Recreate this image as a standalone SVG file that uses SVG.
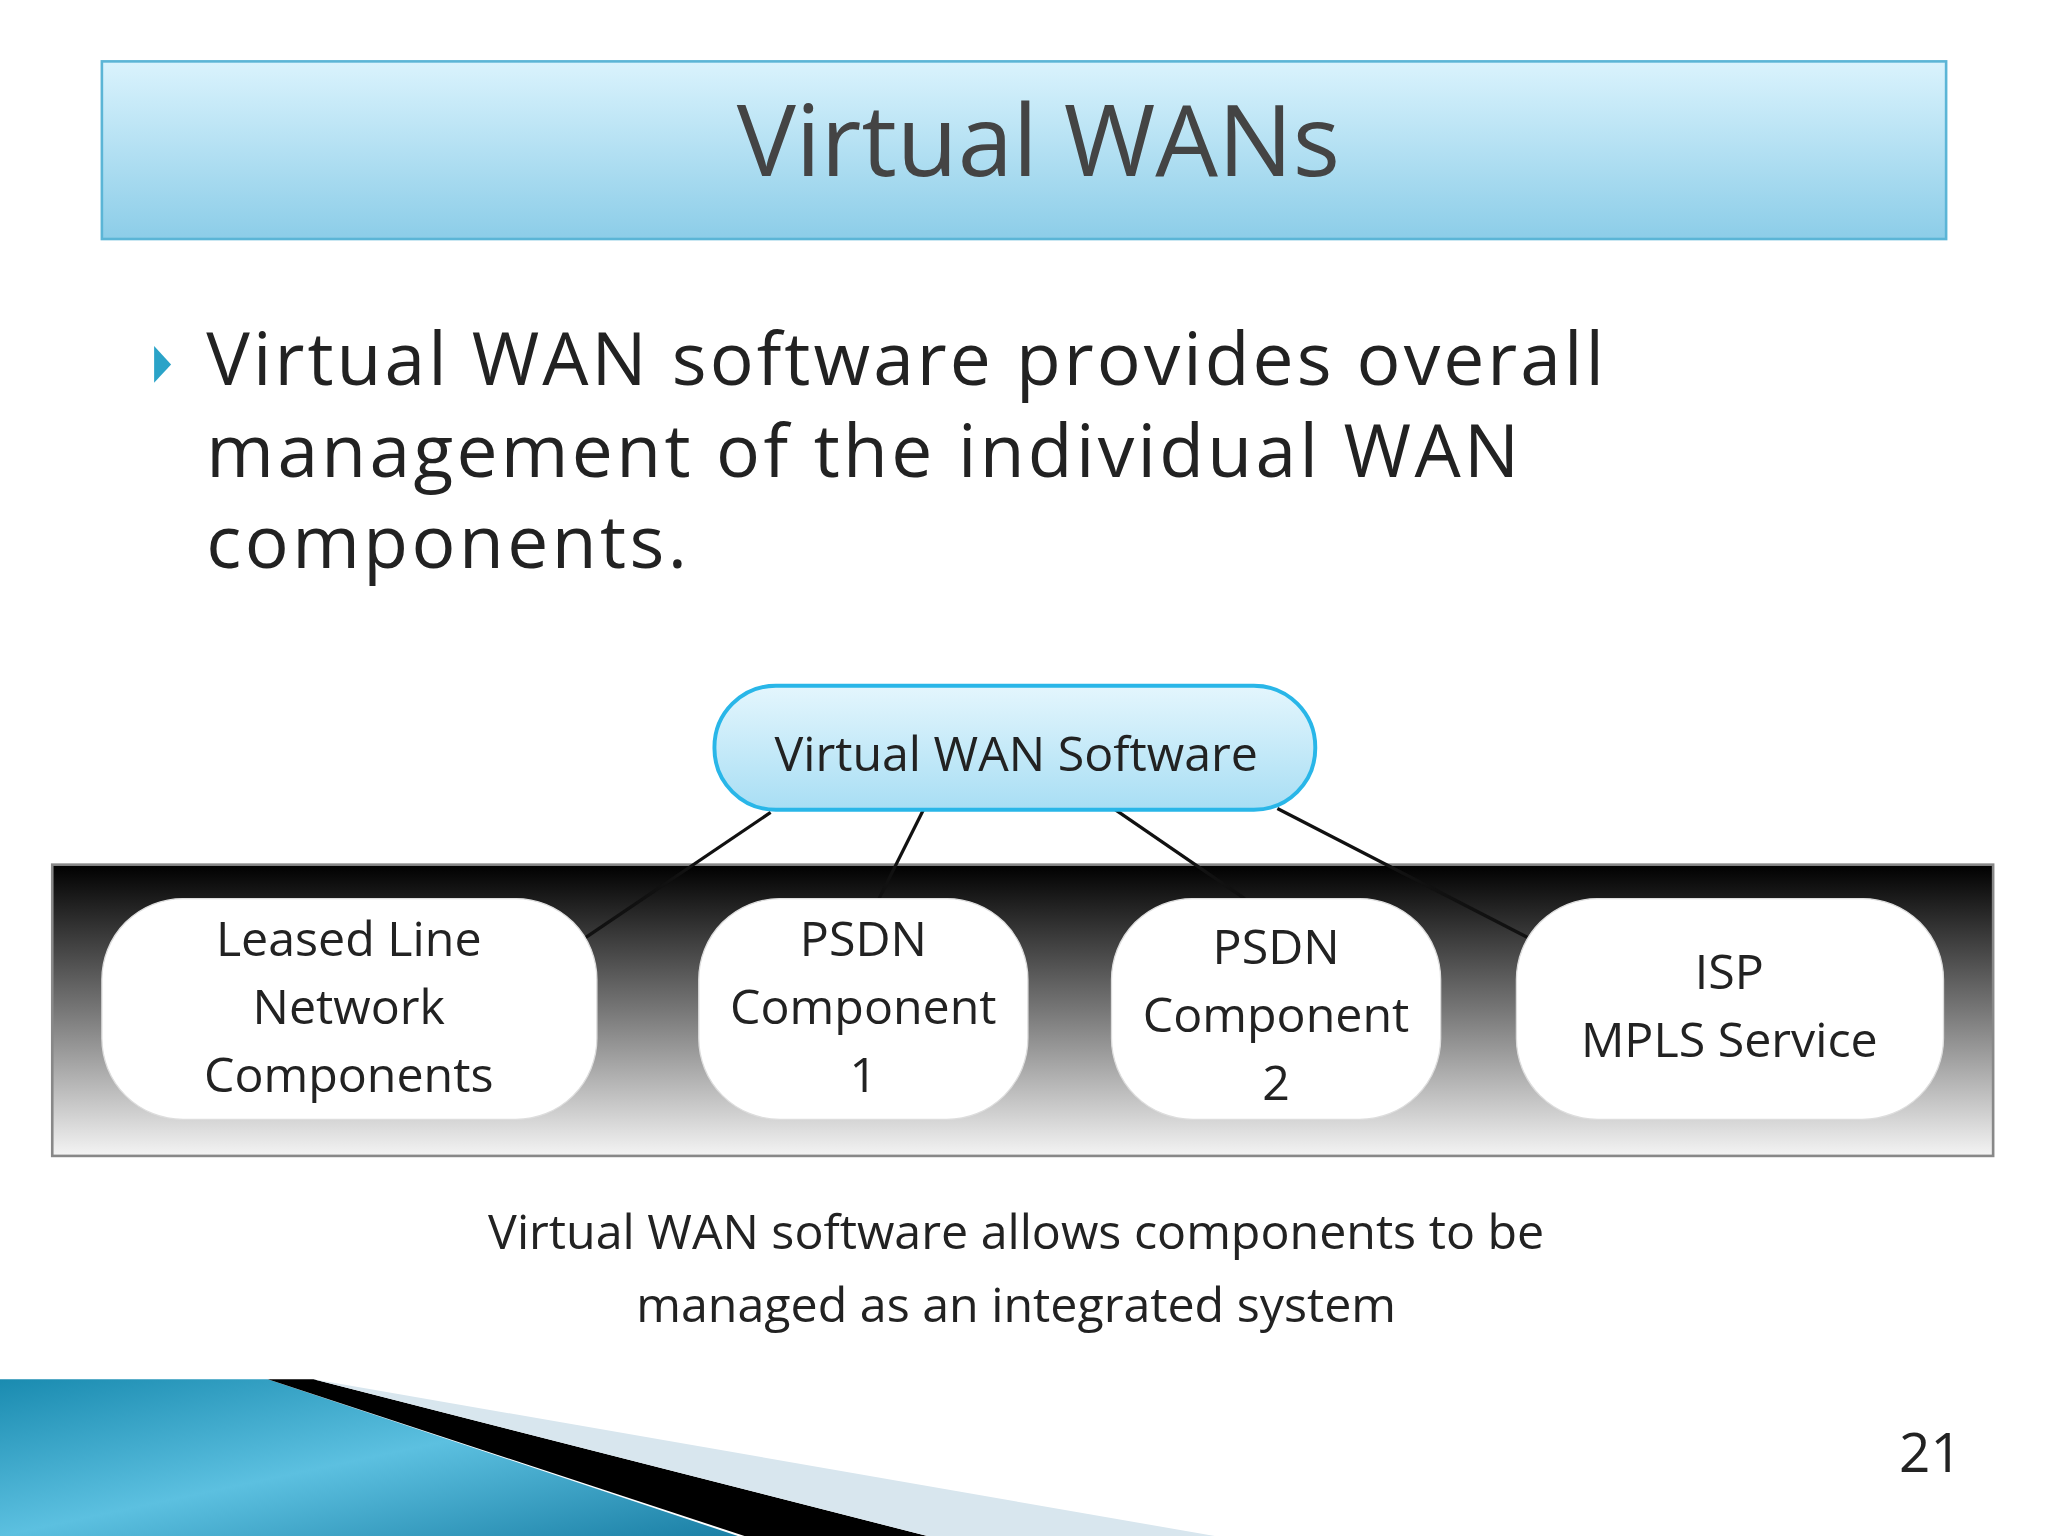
<svg xmlns="http://www.w3.org/2000/svg" width="2048" height="1536" viewBox="0 0 2048 1536">
<defs>
<linearGradient id="tb" x1="0" y1="0" x2="0" y2="1"><stop offset="0" stop-color="#daf3fd"/><stop offset="1" stop-color="#8ccde8"/></linearGradient>
<linearGradient id="pill" x1="0" y1="0" x2="0" y2="1"><stop offset="0" stop-color="#e4f6fd"/><stop offset="1" stop-color="#a8def4"/></linearGradient>
<linearGradient id="band" x1="0" y1="0" x2="0" y2="1"><stop offset="0" stop-color="#000"/><stop offset="0.5" stop-color="#777"/><stop offset="1" stop-color="#f4f4f4"/></linearGradient>
<linearGradient id="blue" x1="0" y1="0" x2="1" y2="1"><stop offset="0" stop-color="#1a8bb0"/><stop offset="0.5" stop-color="#5cc0e0"/><stop offset="1" stop-color="#1a7fa5"/></linearGradient>
<style>
.t{font-family:"Open Sans","DejaVu Sans",sans-serif;fill:#222}
.n{font-family:"Open Sans","Liberation Sans",sans-serif;font-size:37px;fill:#222;text-anchor:middle}
.node{fill:#fff;stroke:#ddd;stroke-width:1}
.c{stroke:#111;stroke-width:2.5;fill:none}
</style>
</defs>
<rect width="2048" height="1536" fill="#fff"/>
<g transform="scale(1.30612)">
<rect x="78" y="47" width="1412" height="136" fill="url(#tb)" stroke="#5bb5d6" stroke-width="2"/>
<text x="795" y="135" class="t" font-size="76" text-anchor="middle" fill="#444" style="fill:#444">Virtual WANs</text>
<polygon points="118,265 131,279 118,293" fill="#2aa3c8"/>
<text class="t" font-size="56" x="158" y="295" textLength="1070">Virtual WAN software provides overall</text>
<text class="t" font-size="56" x="158" y="365" textLength="1005">management of the individual WAN</text>
<text class="t" font-size="56" x="158" y="435" textLength="368">components.</text>
<g id="band"><rect x="40" y="662" width="1486" height="223" fill="url(#band)" stroke="#888" stroke-width="2"/></g>
<g id="connectors">
<line class="c" x1="590" y1="622" x2="448" y2="718"/>
<line class="c" x1="707" y1="620" x2="673" y2="688"/>
<line class="c" x1="851" y1="618" x2="953" y2="688"/>
<line class="c" x1="978" y1="619" x2="1170" y2="718"/>
</g>
<g id="software"><rect x="547" y="525" width="460" height="95" rx="47" fill="url(#pill)" stroke="#29b6e8" stroke-width="3"/>
<text class="n" x="778" y="590" font-size="38">Virtual WAN Software</text></g>
<g id="leased"><rect class="node" x="78" y="688" width="379" height="169" rx="62"/>
<text class="n" x="267" y="732">Leased Line</text><text class="n" x="267" y="784">Network</text><text class="n" x="267" y="836">Components</text></g>
<g id="psdn1"><rect class="node" x="535" y="688" width="252" height="169" rx="62"/>
<text class="n" x="661" y="732">PSDN</text><text class="n" x="661" y="784">Component</text><text class="n" x="661" y="836">1</text></g>
<g id="psdn2"><rect class="node" x="851" y="688" width="252" height="169" rx="62"/>
<text class="n" x="977" y="738">PSDN</text><text class="n" x="977" y="790">Component</text><text class="n" x="977" y="842">2</text></g>
<g id="isp"><rect class="node" x="1161" y="688" width="327" height="169" rx="62"/>
<text class="n" x="1324" y="757">ISP</text><text class="n" x="1324" y="809">MPLS Service</text></g>
<text class="n" x="778" y="956">Virtual WAN software allows components to be</text>
<text class="n" x="778" y="1012">managed as an integrated system</text>
<polygon points="0,1056 205,1056 565,1176 0,1176" fill="url(#blue)"/>
<polygon points="205,1056 240,1056 710,1176 570,1176" fill="#000"/>
<polygon points="240,1056 930,1176 710,1176" fill="#d8e6ee"/>
<text class="t" font-size="42" x="1502" y="1127" text-anchor="end">21</text>
</g>
</svg>
